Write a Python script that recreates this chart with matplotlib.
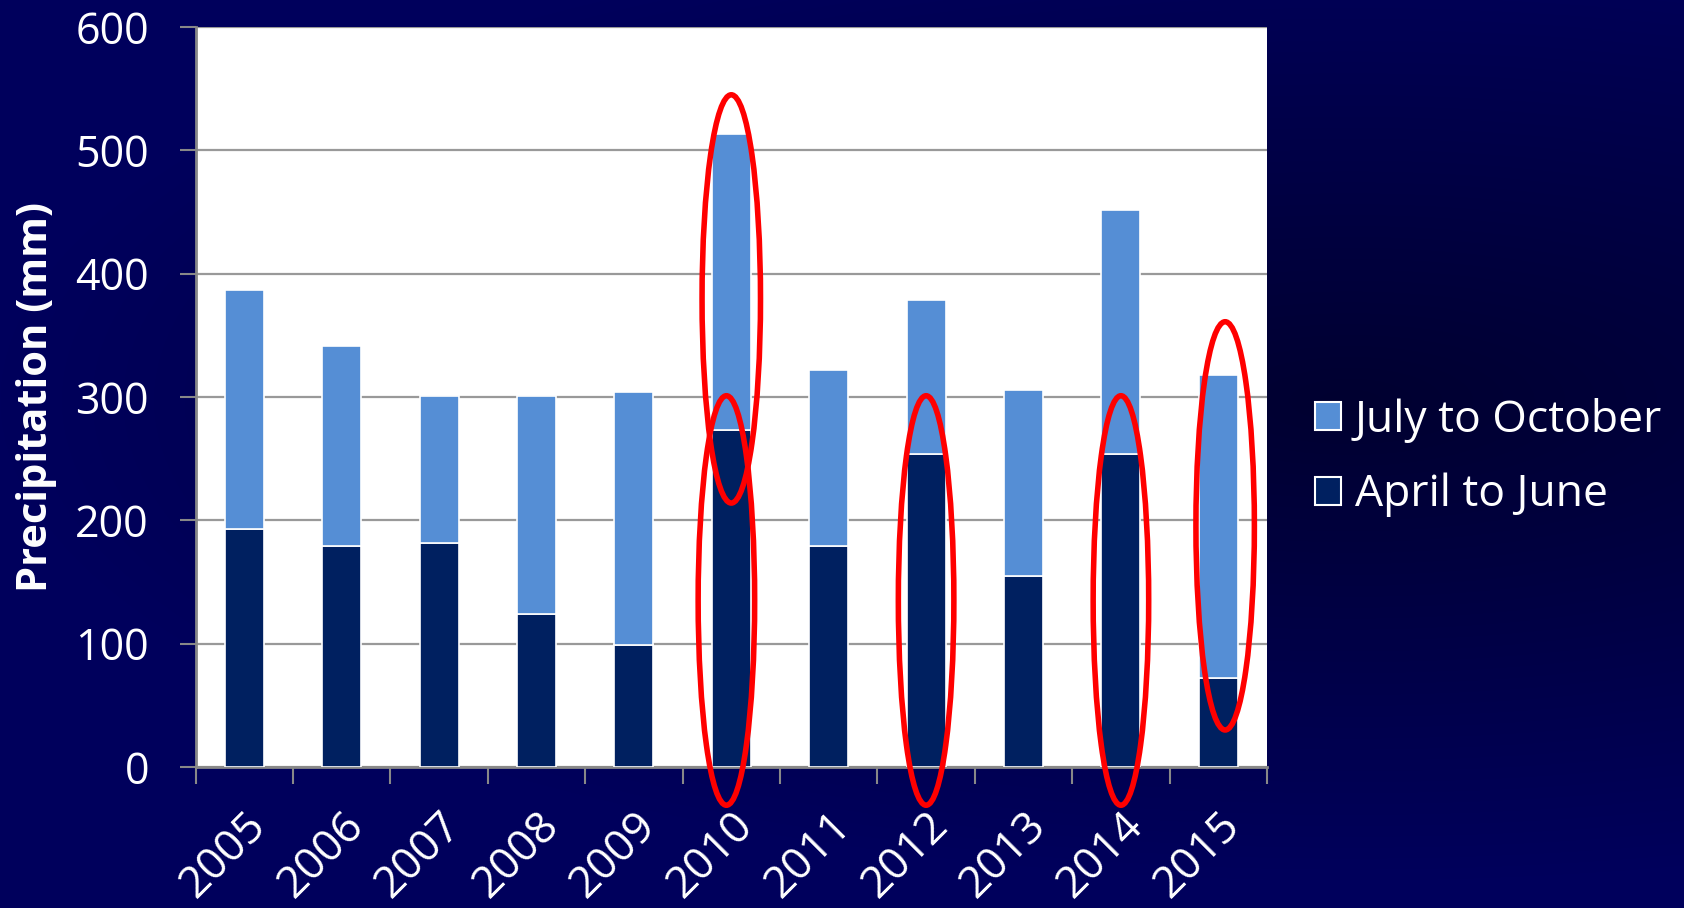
import numpy as np
import matplotlib.pyplot as plt
import matplotlib.transforms as mtransforms
from matplotlib.patches import Ellipse, Patch

years = ['2005', '2006', '2007', '2008', '2009', '2010', '2011', '2012', '2013', '2014', '2015']
april_june = [193, 179, 182, 124, 99, 273, 179, 254, 155, 254, 72]
july_oct = [194, 162, 119, 177, 205, 240, 143, 125, 151, 198, 246]

# highlighted years: (category index, x offset, y bottom, y top, width)
highlights = [
    (5, 0.0, 214, 545, 0.60),
    (5, -0.05, -31, 301, 0.58),
    (7, 0.0, -31, 301, 0.57),
    (9, 0.0, -31, 301, 0.57),
    (10, 0.07, 30, 361, 0.60),
]

light = '#558ED5'
dark = '#002060'

plt.rcParams['font.family'] = ['Open Sans', 'DejaVu Sans']

fig = plt.figure(figsize=(16.84, 9.08), dpi=100)

# navy background with a soft radial fade
bg = fig.add_axes([0, 0, 1, 1], zorder=-10)
h, w = 908, 1684
yy, xx = np.mgrid[0:h, 0:w]
r = np.sqrt(((xx - 1350) / 1350.0) ** 2 + ((yy - 400) / 480.0) ** 2)
t = np.clip(r, 0, 1)
img = np.zeros((h, w, 3))
img[..., 2] = (0x30 + (0x5c - 0x30) * t) / 255.0
bg.imshow(img, aspect='auto', extent=[0, 1, 0, 1], origin='upper')
bg.axis('off')

ax = fig.add_axes([0.1161, 0.1553, 0.6363, 0.8150])
ax.set_facecolor('white')

x = np.arange(len(years))
width = 0.40
ax.bar(x, april_june, width, color=dark, edgecolor='white', linewidth=1.2, zorder=3)
ax.bar(x, july_oct, width, bottom=april_june, color=light, edgecolor='white', linewidth=1.2, zorder=3)

for i, dx, lo, hi, ew in highlights:
    e = Ellipse((i + dx, (lo + hi) / 2), ew, hi - lo, fill=False,
                edgecolor='#ff0000', linewidth=4, zorder=5, clip_on=False)
    ax.add_patch(e)

ax.set_xlim(-0.5, len(years) - 0.5)
ax.set_ylim(0, 600)
ax.set_yticks(range(0, 601, 100))
ax.yaxis.grid(True, color='#999999', linewidth=1.6, zorder=0)
ax.set_axisbelow(True)

ax.set_xticks(np.arange(-0.5, len(years), 1.0), minor=False)
ax.set_xticklabels([])
ax.set_xticks(x, minor=True)
ax.set_xticklabels(years, minor=True, rotation=45, ha='right', va='top',
                   rotation_mode='anchor', color='white', fontsize=32)
shift = mtransforms.ScaledTranslation(-0.17, 0, fig.dpi_scale_trans)
for lbl in ax.get_xticklabels(minor=True):
    lbl.set_transform(lbl.get_transform() + shift)
ax.tick_params(axis='x', which='minor', length=0, pad=26)
ax.tick_params(axis='x', which='major', length=12, width=1.5, color='#888888', direction='out')
ax.tick_params(axis='y', length=11.5, width=1.5, color='#888888', labelcolor='white',
               labelsize=31, pad=22)

for side in ['top', 'right']:
    ax.spines[side].set_visible(False)
for side in ['left', 'bottom']:
    ax.spines[side].set_color('#888888')
    ax.spines[side].set_linewidth(2)

fig.text(37 / 1684, 1 - 397 / 908, 'Precipitation (mm)', color='white', fontsize=30,
         fontweight='bold', rotation=90, ha='center', va='center')

handles = [Patch(facecolor=light, edgecolor='white', linewidth=1.5, label='July to October'),
           Patch(facecolor=dark, edgecolor='white', linewidth=1.5, label='April to June')]
leg = fig.legend(handles=handles, loc='center left', bbox_to_anchor=(0.757, 0.496),
                 frameon=False, fontsize=32, labelcolor='white',
                 handlelength=0.6, handleheight=0.6, handletextpad=0.3, labelspacing=0.68)

fig.savefig('out.png', dpi=100)
